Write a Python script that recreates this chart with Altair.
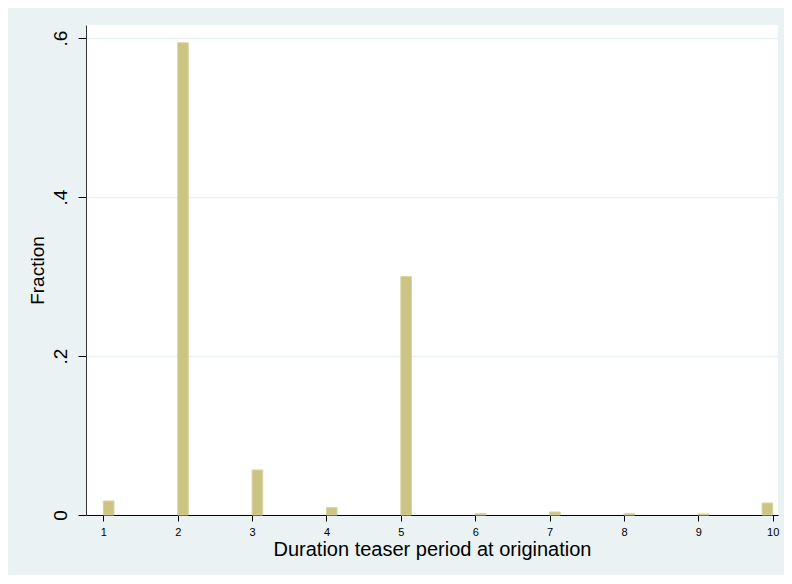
import altair as alt
import pandas as pd

# Duration of teaser period (years) and fraction of loans
durations = [1, 2, 3, 4, 5, 6, 7, 8, 9, 10]
fractions = [0.0176, 0.594, 0.0566, 0.0092, 0.300, 0.0017, 0.0038, 0.0017, 0.0013, 0.0151]
x_ticks = [1, 2, 3, 4, 5, 6, 7, 8, 9, 10]
y_ticks = [0, 0.2, 0.4, 0.6]

# histogram with 63 bins over [1, 10]
bin_w = 9 / 63
starts = [d if d < 10 else 10 - bin_w for d in durations]
df = pd.DataFrame({
    "start": starts,
    "end": [s + bin_w for s in starts],
    "fraction": fractions,
})

FONT = "Liberation Sans"
BG = "#EAF2F3"

bars = alt.Chart(df).mark_bar(
    fill="#CCC482", stroke="#D9D3A2", strokeWidth=1, binSpacing=0
).encode(
    x=alt.X("start:Q",
            scale=alt.Scale(domain=[0.767, 10.071], nice=False, zero=False),
            axis=alt.Axis(values=x_ticks, title="Duration teaser period at origination",
                          grid=False, tickSize=6, tickColor="#000000", domainColor="#000000",
                          labelFontSize=11, labelPadding=5, labelColor="#000000",
                          titleFontSize=20, titleFontWeight="normal", titleColor="#000000",
                          titlePadding=2, labelFont=FONT, titleFont=FONT)),
    x2="end:Q",
    y=alt.Y("fraction:Q",
            scale=alt.Scale(domain=[0, 0.6164], nice=False),
            axis=alt.Axis(values=y_ticks, title="Fraction",
                          labelExpr="datum.value == 0 ? '0' : replace(format(datum.value, '.1f'), '0.', '.')",
                          labelAngle=270, labelAlign="center", labelBaseline="bottom",
                          grid=True, gridColor=BG, gridWidth=1.5,
                          tickSize=8, tickColor="#000000", domainColor="#333333",
                          labelFontSize=19, labelPadding=8, labelColor="#000000",
                          titleFontSize=19, titleFontWeight="normal", titleColor="#000000",
                          titlePadding=4, labelFont=FONT, titleFont=FONT)),
    y2=alt.datum(0),
)

chart = bars.properties(
    width=692, height=490,
    background=BG,
    padding={"left": 78, "top": 17, "right": 6, "bottom": 60},
    autosize=alt.AutoSizeParams(type="none"),
).configure_view(fill="#FFFFFF", stroke=None)

chart.save("out.html", embed_options={"renderer": "svg", "actions": False})
